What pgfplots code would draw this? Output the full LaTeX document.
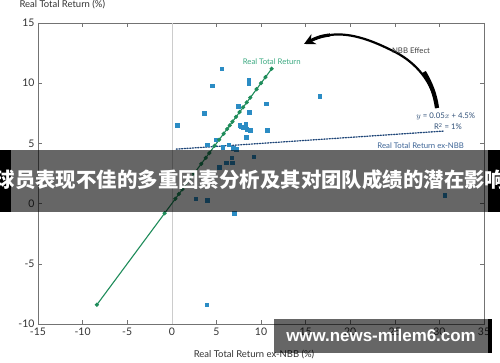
\documentclass[border=0pt]{standalone}
\usepackage{pgfplots}
\pgfplotsset{compat=1.18}
\usepackage{fontspec}
\setmainfont{Lato}
\newfontfamily\cjk{Noto Sans CJK SC}
\newfontfamily\wm{Liberation Sans}
\usetikzlibrary{arrows.meta}
\definecolor{ptblue}{RGB}{43,140,196}
\definecolor{rtgreen}{RGB}{30,140,90}
\definecolor{rtlabel}{RGB}{60,170,130}
\definecolor{navy}{RGB}{31,70,120}
\definecolor{exlabel}{RGB}{60,100,150}
\begin{document}
\begin{tikzpicture}[x=1bp,y=1bp]
\useasboundingbox (0,0) rectangle (500,362);
\fill[white] (0,0) rectangle (500,362);
\begin{axis}[
  at={(38bp,38bp)}, anchor=south west,
  scale only axis, width=446bp, height=301bp,
  xmin=-15, xmax=35, ymin=-10, ymax=15,
  xtick={-15,-10,...,35}, ytick={-10,-5,...,15},
  tick align=inside, major tick length=4bp,
  axis line style={draw=black!55, line width=0.8pt},
  tick style={draw=black!55, line width=0.6pt},
  ticklabel style={font=\fontsize{10.5}{12}\selectfont, text=black!80},
  /pgf/number format/assume math mode=true,
  clip=false,
]
\addplot[black!20, line width=0.6pt] coordinates {(0,-10) (0,15)};
% dotted regression line
\addplot[navy, line width=1.3pt, dash pattern=on 1.1pt off 1.6pt, line cap=round] coordinates {(0.5,4.525) (30.5,6.025)};
% blue points
\addplot[only marks, mark=square*, mark size=1.8pt, ptblue] coordinates {
(0.6,6.5)(3.6,7.5)(4.5,9.8)(5.6,11.2)(8.6,10.3)(8.6,10.0)(7.45,8.1)(10.6,8.3)
(8.65,7.6)(10.7,6.1)(7.6,6.5)(7.8,6.4)(8.0,6.3)(8.3,6.6)(8.4,6.2)(8.8,6.1)
(8.35,5.5)(4.0,4.9)(4.9,5.3)(6.4,4.9)(5.7,4.7)(6.9,4.6)(7.2,4.5)(6.7,3.8)
(9.2,3.9)(6.1,3.4)(6.8,3.4)(5.3,3.0)(16.6,8.9)(2.7,0.4)(4.0,0.3)(7.0,-0.8)
(3.9,-8.4)(30.6,0.7)};
% green line
\addplot[rtgreen, line width=1.1pt, mark=*, mark size=1.5pt] coordinates {
(-8.4,-8.4)(-0.8,-0.8)(0.4,0.4)(0.8,0.8)(1.2,1.2)(2.5,2.5)(3.3,3.3)(3.8,3.8)
(4.2,4.2)(4.8,4.8)(5.3,5.3)(5.8,5.8)(6.2,6.2)(6.5,6.5)(6.8,6.8)(7.2,7.2)
(7.6,7.6)(8.0,8.0)(8.4,8.4)(8.8,8.8)(9.5,9.5)(10.0,10.0)(10.5,10.5)(11.2,11.2)};
\node[font=\fontsize{7.8}{9}\selectfont, text=rtlabel] at (axis cs:11.2,11.75) {Real Total Return};
\node[font=\fontsize{7.8}{9}\selectfont, text=exlabel] at (axis cs:27.9,4.8) {Real Total Return ex-NBB};
\node[font=\fontsize{7.8}{9}\selectfont, text=exlabel!80!black, anchor=east] at (axis cs:34.4,7.2) {$y$ = 0.05$x$ + 4.5\%};
\node[font=\fontsize{7.8}{9}\selectfont, text=exlabel!80!black, anchor=east] at (axis cs:32.9,6.4) {R\textsuperscript{2} = 1\%};
\end{axis}
% axis titles
\node[font=\fontsize{9.5}{11}\selectfont, text=black!80, anchor=west] at (16,357) {Real Total Return (\%)};
\node[font=\fontsize{9.5}{11}\selectfont, text=black!80] at (254,7) {Real Total Return ex-NBB (\%)};
% NBB effect arrow (tapered)
\draw[line width=2.2bp, -{Stealth[length=11bp,width=11bp]}] (437,254) .. controls (432,285) and (410,303) .. (393,311) .. controls (375,320) and (352,330) .. (330,327) .. controls (320,326) and (312,322) .. (304,318);
\draw[line width=4.2bp] (437,254) .. controls (435,268) and (431,278) .. (424,290);
\draw[line width=3.2bp] (330,327) .. controls (320,326) and (314,323) .. (310,321);
\node[font=\fontsize{7.8}{9}\selectfont, text=black!75] at (411,311) {NBB Effect};
% banner overlay
\fill[black, opacity=0.6] (0,150) rectangle (500,212);
\fill[black] (0,150) rectangle (11,212);
\fill[black] (488,150) rectangle (500,212);
\node[text=white, font=\cjk\bfseries\fontsize{20.5}{22}\selectfont, inner sep=0] at (250,182) {球员表现不佳的多重因素分析及其对团队成绩的潜在影响};
% watermark
\fill[black, opacity=0.6] (274,9) rectangle (488,43);
\fill[black] (488,9) rectangle (492,43);
\node[text=white, font=\wm\bfseries\fontsize{17}{19}\selectfont, inner sep=0] at (381,27) {www.news-milem6.com};
\end{tikzpicture}
\end{document}
